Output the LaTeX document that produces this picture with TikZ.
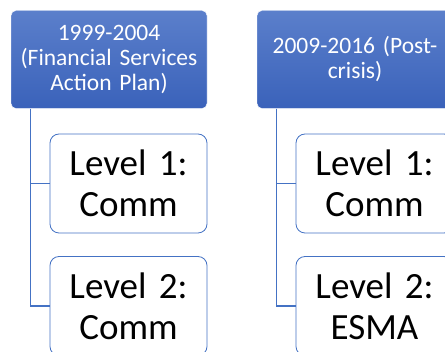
\documentclass[tikz,border=0pt]{standalone}
\usepackage{fontspec}
\setmainfont[WordSpace=0.8]{Carlito}
\usetikzlibrary{positioning}

\definecolor{hdrtop}{HTML}{5B7FCB}
\definecolor{hdrbot}{HTML}{3A62BA}
\definecolor{linkblue}{HTML}{4472C4}

\tikzset{
  header/.style={rectangle, rounded corners=5pt, top color=hdrtop, bottom color=hdrbot,
    draw=white, text=white, minimum width=196pt, minimum height=98pt, text width=190pt,
    align=center, inner sep=0pt, font=\fontsize{23.5}{25}\selectfont},
  levelbox/.style={rectangle, rounded corners=9pt, draw=linkblue, fill=white, line width=0.8pt,
    minimum width=157pt, minimum height=99pt, text width=150pt,
    align=center, inner sep=0pt, font=\fontsize{37}{41}\selectfont},
  link/.style={draw=linkblue, line width=1.2pt}
}

\begin{document}
\begin{tikzpicture}[x=1pt,y=-1pt]
\useasboundingbox (0,0) rectangle (445,352);
\clip (0,0) rectangle (445,352);

% first period
\node[header] (fsap) at (109,59.5) {1999-2004\\(Financial Services\\Action Plan)};
\node[levelbox] (fsapOne) at (128.5,183.5) {Level 1:\\Comm};
\node[levelbox] (fsapTwo) at (128.5,306) {Level 2:\\Comm};

% second period
\node[header] (post) at (355,59.5) {2009-2016 (Post-\\crisis)};
\node[levelbox] (postOne) at (374.5,183.5) {Level 1:\\Comm};
\node[levelbox] (postTwo) at (374.5,306) {Level 2:\\ESMA};

% connectors
\draw[link] ([xshift=20pt]fsap.south west) |- (fsapOne.west);
\draw[link] ([xshift=20pt]fsap.south west) |- (fsapTwo.west);
\draw[link] ([xshift=20pt]post.south west) |- (postOne.west);
\draw[link] ([xshift=20pt]post.south west) |- (postTwo.west);
\end{tikzpicture}
\end{document}
